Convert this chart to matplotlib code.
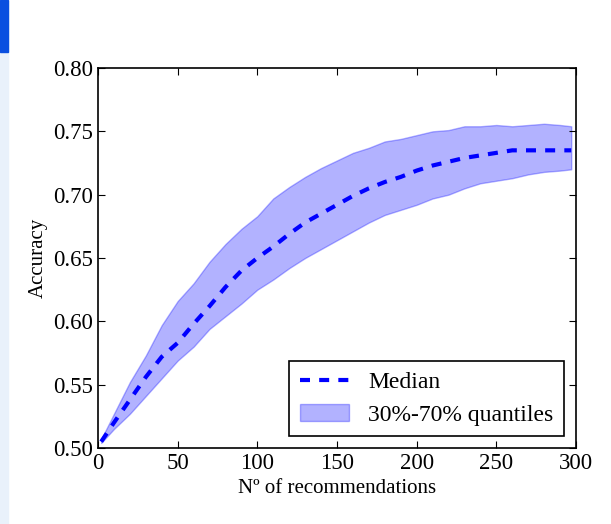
import numpy as np
import matplotlib
matplotlib.use('Agg')
import matplotlib.pyplot as plt
from matplotlib.patches import Rectangle

# number of recommendations and accuracy quantiles
n_recs = [2, 10, 20, 30, 40, 50, 60, 70, 80, 90, 100, 110, 120, 130, 140, 150,
          160, 170, 180, 190, 200, 210, 220, 230, 240, 250, 260, 270, 280, 290, 297]
median = [0.505, 0.520, 0.538, 0.556, 0.572, 0.583, 0.598, 0.612, 0.627, 0.640,
          0.650, 0.659, 0.669, 0.678, 0.685, 0.692, 0.699, 0.705, 0.710, 0.714,
          0.719, 0.723, 0.726, 0.729, 0.731, 0.733, 0.735, 0.735, 0.735, 0.735, 0.735]
q70 = [0.507, 0.527, 0.552, 0.573, 0.597, 0.616, 0.630, 0.647, 0.661, 0.673,
       0.683, 0.697, 0.706, 0.714, 0.721, 0.727, 0.733, 0.737, 0.742, 0.744,
       0.747, 0.750, 0.751, 0.754, 0.754, 0.755, 0.754, 0.755, 0.756, 0.755, 0.754]
q30 = [0.504, 0.515, 0.527, 0.541, 0.555, 0.569, 0.580, 0.594, 0.604, 0.614,
       0.625, 0.633, 0.642, 0.650, 0.657, 0.664, 0.671, 0.678, 0.684, 0.688,
       0.692, 0.697, 0.700, 0.705, 0.709, 0.711, 0.713, 0.716, 0.718, 0.719, 0.720]

plt.rcParams['font.family'] = ['Liberation Serif', 'DejaVu Serif']
plt.rcParams['xtick.direction'] = 'in'
plt.rcParams['ytick.direction'] = 'in'
plt.rcParams['xtick.top'] = True
plt.rcParams['ytick.right'] = True
plt.rcParams['xtick.major.size'] = 5
plt.rcParams['ytick.major.size'] = 5

fig = plt.figure(figsize=(6.11, 5.24), dpi=100)
fig.patch.set_facecolor('white')
# page strip on the left edge
fig.add_artist(Rectangle((0, 0), 8 / 611, 1, transform=fig.transFigure,
                         color='#e9f1fb', zorder=0))
fig.add_artist(Rectangle((0, 1 - 52 / 524), 8 / 611, 52 / 524,
                         transform=fig.transFigure, color='#0a4fe0', zorder=0))

ax = fig.add_axes([98 / 611, 1 - 448 / 524, 478 / 611, 380 / 524])

line, = ax.plot(n_recs, median, color='blue', ls='--', lw=3, dashes=(2.4, 2.2),
                label='Median')
band = ax.fill_between(n_recs, q30, q70, color='blue', alpha=0.3,
                       label='30%-70% quantiles')

ax.set_xlim(0, 300)
ax.set_ylim(0.5, 0.8)
ax.set_xticks(np.arange(0, 301, 50))
yt = np.arange(0.5, 0.801, 0.05)
ax.set_yticks(yt)
ax.set_yticklabels([f'{v:.2f}' for v in yt])
ax.tick_params(labelsize=16.5)
for s in ax.spines.values():
    s.set_linewidth(1.2)

ax.set_xlabel('Nº of recommendations', fontsize=15)
ax.set_ylabel('Accuracy', fontsize=15)

leg = ax.legend([line, band], ['Median', '30%-70% quantiles'],
                loc='lower right', fontsize=17, fancybox=False,
                edgecolor='black', framealpha=1, handlelength=2.1,
                handletextpad=0.8, borderpad=0.45, labelspacing=0.45)
leg.get_frame().set_linewidth(1.2)

fig.savefig('out.png', dpi=100)
